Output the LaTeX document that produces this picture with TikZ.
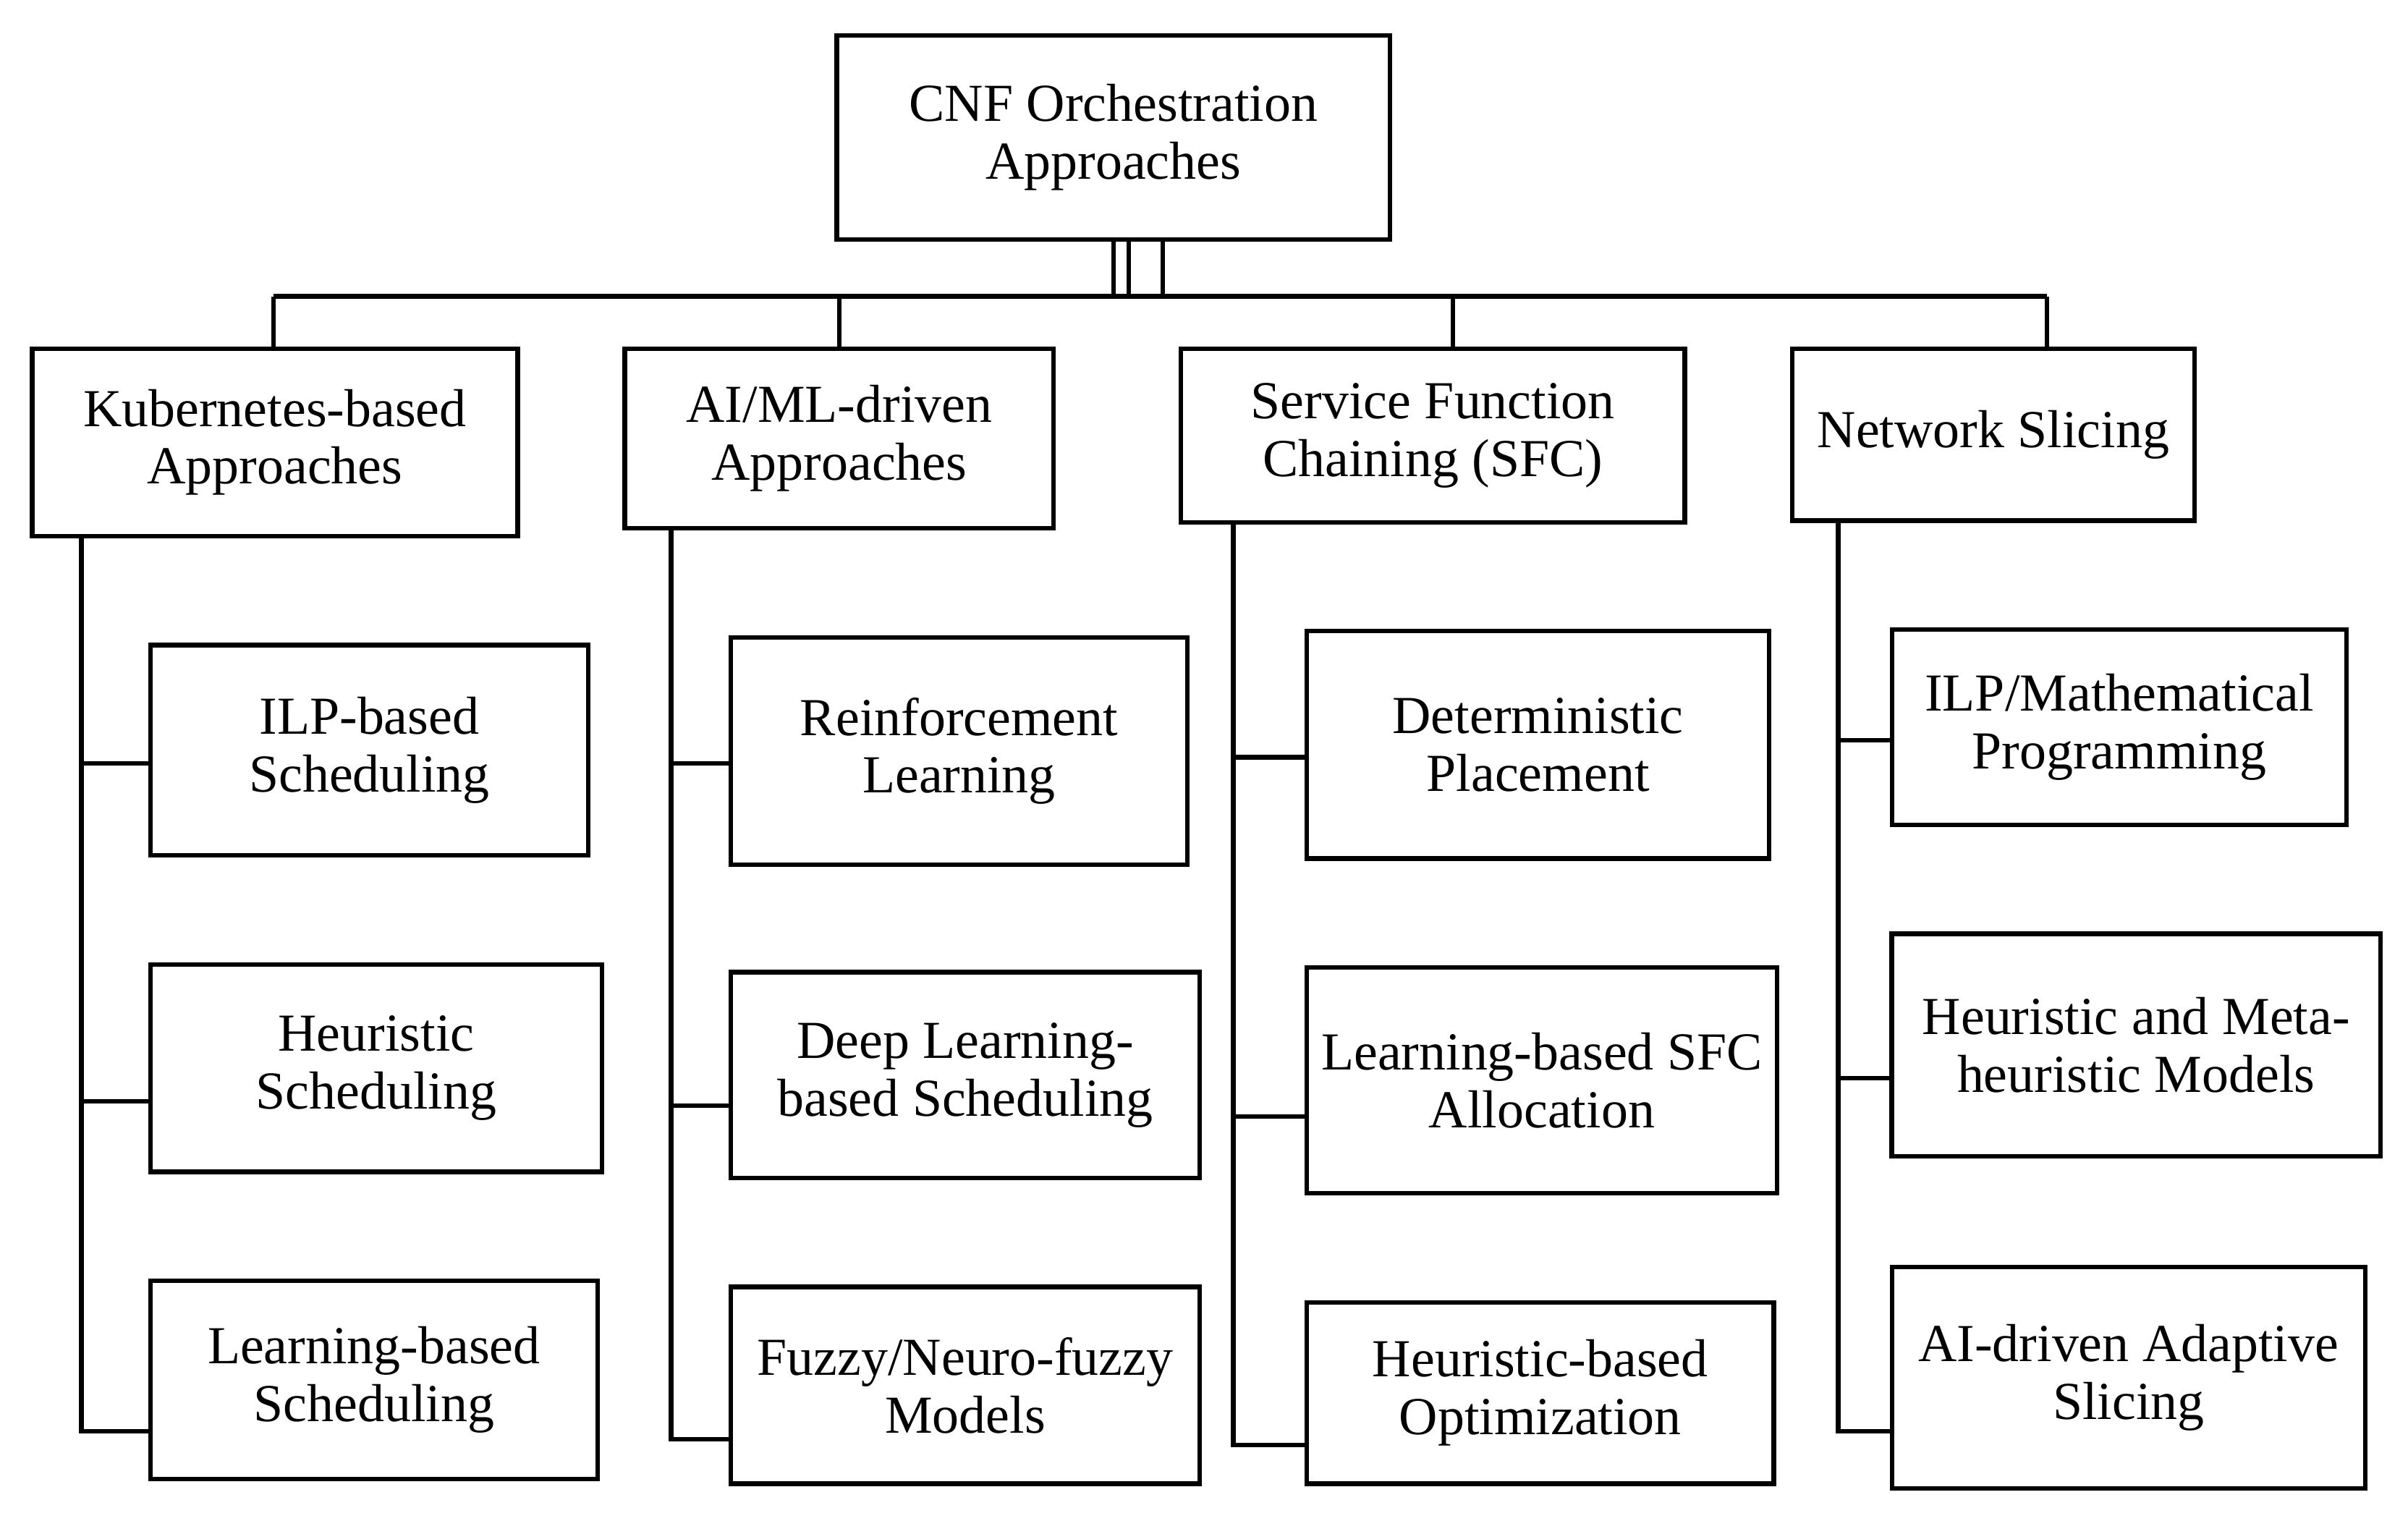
\documentclass[tikz,border=0pt]{standalone}
\usepackage{fontspec}
\setmainfont{Liberation Serif}
\usetikzlibrary{positioning}
\begin{document}
\begin{tikzpicture}
	[x=0.01cm, y=-0.01cm, font=\fontsize{9.9}{10.7}\selectfont,
	% STYLES
	% The group style is used for the root and the four approach families
	group/.style={rectangle, draw, line width=0.85pt, inner sep=2pt, align=center},
	% The method style is used for the leaf techniques
	method/.style={rectangle, draw, line width=0.85pt, inner sep=2pt, align=center},
	link/.style={draw, line width=0.85pt}]
	
	\useasboundingbox (0,0) rectangle (1568,990);
	% root
	\node [group, minimum width=3.6cm, minimum height=1.33cm] (Root) at (725,89.5) {CNF Orchestration\\Approaches};
	% families
	\node [group, minimum width=3.16cm, minimum height=1.22cm] (Kube) at (179,288) {Kubernetes-based\\Approaches};
	\node [group, minimum width=2.79cm, minimum height=1.17cm] (AIML) at (546.5,285.5) {AI/ML-driven\\Approaches};
	\node [group, minimum width=3.28cm, minimum height=1.13cm] (SFC) at (933,283.5) {Service Function\\Chaining (SFC)};
	\node [group, minimum width=2.62cm, minimum height=1.12cm] (Slice) at (1298,283) {Network Slicing};
	% Kubernetes
	\node [method, minimum width=2.85cm, minimum height=1.37cm] (KubeIlp) at (240.5,488.5) {ILP-based\\Scheduling};
	\node [method, minimum width=2.94cm, minimum height=1.35cm] (KubeHeur) at (245,695.5) {Heuristic\\Scheduling};
	\node [method, minimum width=2.91cm, minimum height=1.29cm] (KubeLearn) at (243.5,898.5) {Learning-based\\Scheduling};
	% AI/ML
	\node [method, minimum width=2.97cm, minimum height=1.48cm] (AiRl) at (624.5,489) {Reinforcement\\Learning};
	\node [method, minimum width=3.05cm, minimum height=1.34cm] (AiDl) at (628.5,700) {Deep Learning-\\based Scheduling};
	\node [method, minimum width=3.05cm, minimum height=1.28cm] (AiFuzzy) at (628.5,902) {Fuzzy/Neuro-fuzzy\\Models};
	% SFC
	\node [method, minimum width=3.01cm, minimum height=1.48cm] (SfcDet) at (1001.5,485) {Deterministic\\Placement};
	\node [method, minimum width=3.06cm, minimum height=1.47cm] (SfcLearn) at (1004,703.5) {Learning-based SFC\\Allocation};
	\node [method, minimum width=3.04cm, minimum height=1.18cm] (SfcHeur) at (1003,907) {Heuristic-based\\Optimization};
	% slicing
	\node [method, minimum width=2.96cm, minimum height=1.27cm] (SliceIlp) at (1380,473.5) {ILP/Mathematical\\Programming};
	\node [method, minimum width=3.18cm, minimum height=1.45cm] (SliceHeur) at (1391,680.5) {Heuristic and Meta-\\heuristic Models};
	\node [method, minimum width=3.08cm, minimum height=1.44cm] (SliceAi) at (1386,897) {AI-driven Adaptive\\Slicing};
	
	% bus below the root
	\coordinate (BusL) at (178,193);
	\coordinate (BusR) at (1333,193);
	\path [link] (BusL) -- (BusR);
	\foreach \x in {725,735,757}
		\path [link] (Root.south -| \x,0) -- (\x,193);
	\path [link] (Kube.north -| 178,0) -- (178,193);
	\path [link] (AIML.north) -- (546.5,193);
	\path [link] (SFC.north -| 946,0) -- (946,193);
	\path [link] (Slice.north -| 1333,0) -- (1333,193);
	
	% trunks and branches
	\path [link] (Kube.south -| 53,0) |- (KubeLearn.west |- 0,932);
	\path [link] (53,497) -- (KubeIlp.west |- 0,497);
	\path [link] (53,717) -- (KubeHeur.west |- 0,717);
	\path [link] (AIML.south -| 437,0) |- (AiFuzzy.west |- 0,937);
	\path [link] (437,497) -- (AiRl.west |- 0,497);
	\path [link] (437,720) -- (AiDl.west |- 0,720);
	\path [link] (SFC.south -| 803,0) |- (SfcHeur.west |- 0,941);
	\path [link] (803,493) -- (SfcDet.west |- 0,493);
	\path [link] (803,727) -- (SfcLearn.west |- 0,727);
	\path [link] (Slice.south -| 1197,0) |- (SliceAi.west |- 0,932);
	\path [link] (1197,482) -- (SliceIlp.west |- 0,482);
	\path [link] (1197,702) -- (SliceHeur.west |- 0,702);
\end{tikzpicture}
\end{document}
